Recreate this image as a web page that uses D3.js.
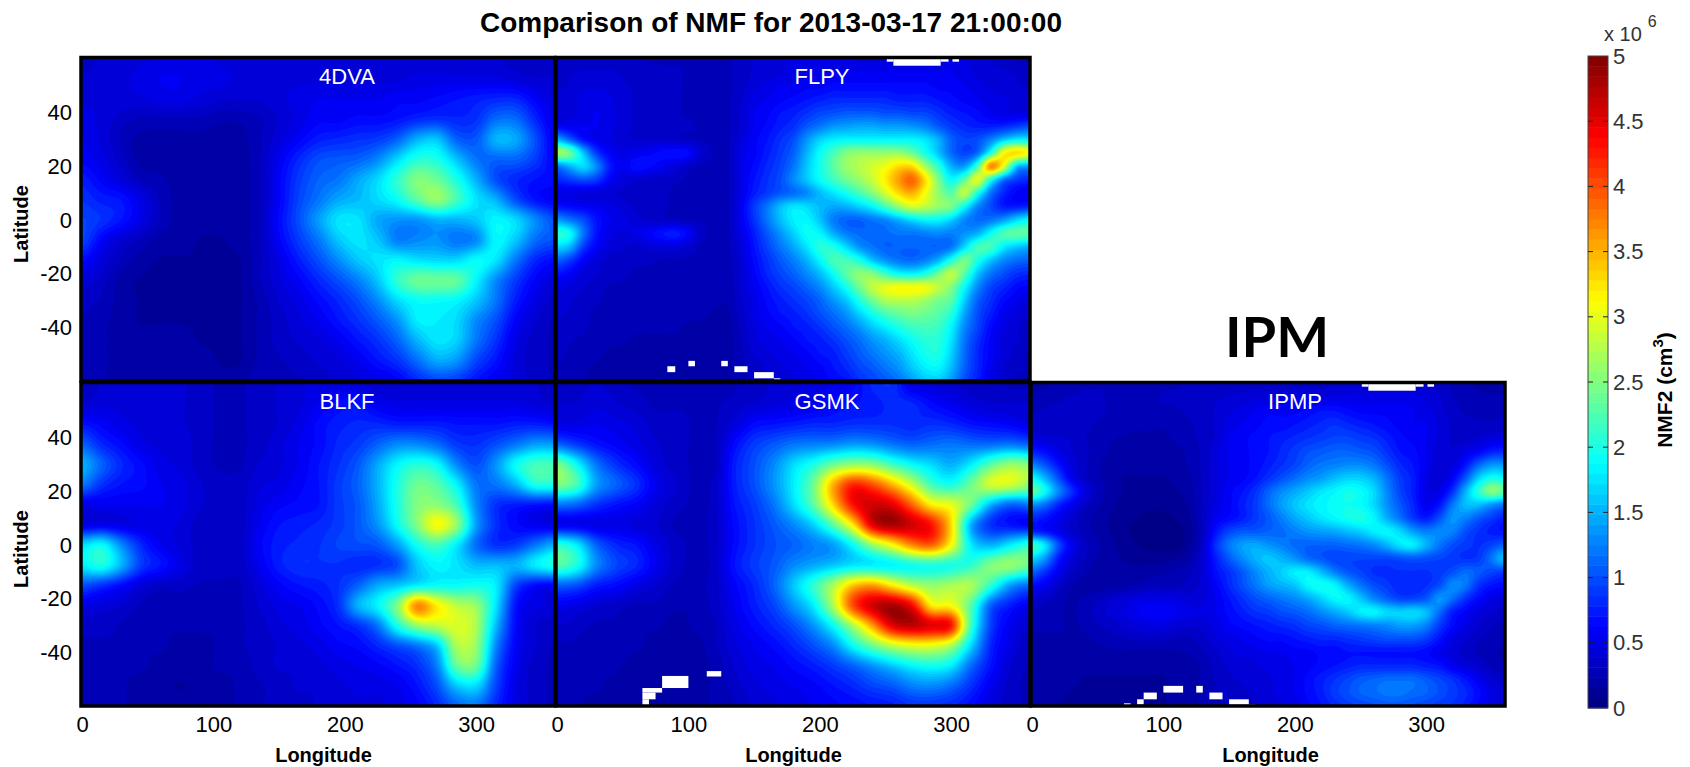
<!DOCTYPE html>
<html><head><meta charset="utf-8">
<script src="https://cdn.jsdelivr.net/npm/d3@7/dist/d3.min.js"></script>
<style>html,body{margin:0;background:#fff}svg{display:block}text{font-family:"Liberation Sans",Arial,sans-serif}</style>
</head><body><svg id="c" width="1690" height="767"></svg>
<script>
const lonTicks = [0, 100, 200, 300];
const latTicks = [-40, -20, 0, 20, 40];
const barTicks = [0, 0.5, 1, 1.5, 2, 2.5, 3, 3.5, 4, 4.5, 5];

// 4DVA, BLKF, GSMK: lon 0..360 every 15 deg, lat 60..-60 every 7.5 deg (x 10^6 cm^-3)
const v4DVA = [
[.35,.4,.45,.45,.5,.5,.5,.45,.45,.4,.4,.4,.4,.4,.4,.4,.4,.4,.4,.4,.4,.4,.35,.35,.35],
[.4,.45,.45,.5,.55,.55,.5,.5,.45,.45,.45,.45,.45,.45,.45,.45,.45,.5,.5,.5,.5,.5,.45,.4,.4],
[.45,.45,.45,.45,.5,.5,.45,.4,.4,.4,.45,.5,.55,.55,.55,.55,.6,.6,.65,.7,.75,.8,.8,.6,.45],
[.5,.45,.35,.3,.3,.3,.3,.25,.25,.3,.4,.5,.6,.6,.65,.65,.7,.8,.85,.8,.85,1.15,1.15,.8,.5],
[.55,.45,.3,.2,.2,.2,.2,.2,.2,.3,.45,.6,.75,.8,.85,.9,1.1,1.5,1.6,1.1,1.05,1.5,1.45,1,.55],
[.6,.5,.35,.2,.2,.2,.2,.2,.2,.3,.55,.8,1,1.05,1.1,1.3,1.7,2.05,2,1.6,1.2,1.1,1.1,.9,.6],
[.75,.6,.45,.3,.25,.2,.2,.2,.2,.3,.6,.9,1.1,1.2,1.45,1.7,2.1,2.5,2.4,2,1.5,1,.8,.7,.65],
[.85,.75,.7,.5,.3,.2,.2,.2,.2,.3,.6,.95,1.2,1.45,1.55,1.7,1.9,2.3,2.6,2.2,1.75,1.5,1,.7,.6],
[.95,.85,.7,.5,.3,.2,.2,.2,.2,.3,.65,1,1.4,1.75,1.75,1.45,1.35,1.35,1.5,1.5,1.6,1.85,1.7,1.3,1],
[.95,.6,.4,.3,.2,.2,.15,.15,.2,.3,.6,.9,1.2,1.6,1.75,1.6,1.25,1.3,1.35,1.2,1.3,1.85,1.6,1.15,1],
[.65,.45,.3,.2,.15,.15,.15,.15,.15,.3,.5,.75,1,1.3,1.6,1.75,1.85,1.75,1.7,1.7,1.9,1.75,1.2,.8,.65],
[.45,.35,.2,.15,.15,.15,.15,.15,.15,.3,.45,.6,.8,1,1.25,1.6,2.1,2.4,2.4,2.35,1.85,1.3,.9,.6,.45],
[.35,.3,.2,.15,.15,.15,.15,.15,.15,.25,.4,.5,.65,.8,1,1.3,1.7,1.9,1.9,1.85,1.6,1.2,.75,.5,.35],
[.3,.25,.2,.15,.15,.15,.15,.15,.15,.25,.35,.45,.55,.7,.85,1.05,1.35,1.8,1.8,1.7,1.3,1,.6,.4,.3],
[.3,.25,.2,.2,.2,.2,.15,.15,.15,.25,.35,.4,.45,.55,.7,.85,1.1,1.5,1.75,1.65,1.2,.85,.5,.35,.3],
[.3,.25,.2,.2,.2,.2,.2,.15,.15,.25,.3,.35,.4,.45,.55,.7,.85,1.15,1.45,1.35,.95,.7,.45,.35,.3],
[.3,.25,.2,.2,.2,.2,.2,.2,.2,.3,.3,.3,.35,.4,.45,.5,.6,.8,.95,.9,.7,.55,.45,.35,.3]];

const vBLKF = [
[.3,.4,.45,.4,.4,.4,.35,.3,.3,.35,.4,.45,.5,.5,.45,.4,.4,.4,.4,.4,.4,.4,.4,.4,.3],
[.4,.45,.45,.45,.4,.4,.35,.3,.3,.35,.4,.45,.55,.65,.7,.55,.5,.5,.5,.5,.5,.5,.5,.45,.4],
[.7,.6,.5,.45,.4,.4,.35,.3,.3,.35,.4,.5,.65,.75,.8,.8,.75,.75,.75,.7,.7,.7,.75,.75,.7],
[1.1,.8,.65,.5,.45,.45,.35,.3,.3,.35,.45,.55,.65,.8,.9,1.1,1.3,1.3,1.15,.9,.85,1,1.2,1.4,1.4],
[1.5,1.1,.8,.65,.5,.45,.35,.3,.3,.4,.45,.55,.7,.85,1.05,1.45,1.85,2.05,1.9,1.3,1,1.35,1.9,2.2,2.2],
[1.2,.85,.7,.65,.55,.5,.4,.35,.35,.45,.5,.6,.7,.9,1.1,1.5,2,2.4,2.3,1.85,1.2,1.2,1.5,2,2],
[.5,.55,.55,.55,.55,.5,.4,.35,.35,.5,.6,.65,.7,.9,1.05,1.45,2,2.5,2.55,2.2,1.3,.85,.75,.7,.65],
[.5,.55,.5,.5,.5,.45,.35,.35,.35,.55,.7,.75,.8,.9,1.05,1.35,1.9,2.5,3.1,2.6,1.4,.85,.65,.55,.5],
[1.7,1.9,1.3,.8,.55,.45,.35,.35,.35,.6,.75,.8,.85,.95,1,1.05,1.4,1.95,2.2,1.8,1.15,.85,.9,1.2,1.5],
[1.8,2,1.5,.9,.7,.5,.35,.35,.35,.55,.75,.85,.85,.85,.8,.85,1,1.6,1.85,1.75,1.55,1.55,1.5,1.8,2],
[1,.85,.65,.45,.35,.35,.3,.3,.3,.45,.6,.7,.75,.85,1.1,1.45,1.6,1.8,1.9,1.9,1.95,1.8,.95,.65,.6],
[.5,.45,.4,.3,.25,.25,.25,.25,.3,.4,.5,.55,.65,.85,1.5,1.85,2.5,3.7,3.2,2.8,2.6,1.75,.7,.5,.45],
[.35,.35,.3,.25,.25,.25,.25,.25,.3,.35,.45,.5,.6,.7,.85,1.2,2,2.6,2.8,2.95,2.7,1.55,.65,.4,.35],
[.3,.3,.3,.25,.25,.2,.2,.25,.3,.35,.4,.45,.5,.6,.65,.8,1,1.2,1.6,2.7,2.6,1.3,.6,.4,.3],
[.3,.3,.25,.25,.2,.2,.2,.25,.25,.35,.4,.4,.45,.5,.55,.6,.7,.85,1.25,2.35,2.4,1.1,.55,.35,.3],
[.3,.3,.25,.2,.2,.15,.2,.2,.25,.3,.35,.4,.4,.45,.5,.5,.55,.7,1,1.6,1.7,.95,.5,.35,.3],
[.3,.3,.25,.2,.2,.2,.2,.2,.25,.3,.35,.35,.4,.4,.45,.45,.5,.6,.8,1.1,1.2,.8,.5,.35,.3]];

const vGSMK = [
[.3,.35,.4,.35,.3,.3,.3,.25,.25,.3,.35,.4,.45,.5,.55,.6,.8,.85,.5,.45,.4,.35,.35,.3,.3],
[.4,.4,.45,.4,.35,.3,.3,.3,.3,.35,.4,.45,.5,.55,.65,.7,.75,.8,.8,.65,.55,.45,.4,.4,.4],
[.5,.5,.55,.5,.45,.35,.35,.3,.3,.45,.65,.7,.75,.8,.8,.85,.85,.85,.8,.85,.8,.7,.65,.6,.5],
[1.1,.9,.7,.6,.5,.4,.35,.3,.3,.65,.9,1.05,1.2,1.25,1.3,1.4,1.35,1.2,1.1,1.15,1.2,1.15,1.15,1.2,1.1],
[2.5,1.9,1.2,.85,.65,.45,.35,.3,.3,.75,1,1.3,1.7,2,2.4,2.6,2.55,2.2,1.9,1.7,1.5,1.8,2.3,2.6,2.5],
[2.5,2.2,1.4,1.1,.85,.55,.4,.3,.35,.75,1,1.35,1.8,2.4,3.5,4.2,4,3.5,2.9,2.2,2,2.4,2.9,2.9,2.6],
[1.2,1.1,.85,.7,.6,.45,.35,.3,.35,.7,.9,1.2,1.7,2.3,3.3,4.3,4.6,4.5,3.9,3.2,3,2.4,1.5,1.1,1.2],
[.55,.55,.5,.5,.45,.4,.3,.3,.35,.65,.85,1.05,1.3,1.65,2.3,3.2,4.5,4.8,4.6,4.3,3.3,1.5,.85,.7,.6],
[2.1,1.8,1.1,.8,.7,.5,.35,.3,.35,.65,.85,1,1.1,1.25,1.4,1.9,2.6,3.1,3.7,3.9,3.1,1.8,1.5,1.8,2.1],
[2.3,2,1.3,.95,.8,.55,.35,.3,.35,.7,.9,1.05,1.3,1.45,1.6,1.75,1.8,1.85,1.95,2,2,2.1,2.5,2.6,2.4],
[1.1,1,.75,.65,.5,.4,.3,.3,.35,.6,.8,1.1,1.6,2.1,2.7,3.4,3.6,3.2,2.8,2.6,2.7,2.7,2.1,1.4,1.15],
[.55,.5,.4,.35,.3,.3,.25,.25,.35,.55,.75,.95,1.35,1.8,2.7,4,4.6,4.8,4.4,3.2,3.1,2.3,1.1,.75,.55],
[.4,.35,.3,.3,.25,.25,.2,.25,.3,.5,.65,.8,1,1.35,1.9,2.7,3.6,4.5,4.7,4.5,4.3,2.2,.95,.55,.4],
[.3,.3,.25,.25,.25,.2,.2,.2,.3,.45,.55,.65,.8,1,1.3,1.9,2.4,2.8,3,3,2.7,1.7,.8,.5,.3],
[.3,.3,.25,.25,.2,.2,.2,.2,.25,.4,.5,.55,.65,.75,.9,1.1,1.35,1.6,1.85,1.95,1.8,1.15,.7,.4,.3],
[.3,.25,.25,.2,.2,.2,.2,.2,.25,.35,.45,.5,.55,.6,.7,.8,.95,1.05,1.25,1.3,1.15,.85,.55,.35,.3],
[.3,.25,.2,.2,.2,.2,.2,.2,.25,.3,.4,.45,.5,.55,.6,.65,.7,.75,.85,.85,.8,.65,.45,.35,.3]];

// FLPY, IPMP: lon 0..360 every 10 deg, lat 60..-60 every 5 deg (thin bands need the finer reading)
const vFLPY = [
[.3,.33,.35,.35,.35,.35,.33,.3,.3,.3,.3,.3,.3,.3,.35,.4,.45,.45,.5,.5,.5,.5,.5,.45,.45,.45,.5,.5,.5,.5,.55,.5,.45,.4,.35,.3,.3],
[.35,.38,.4,.4,.4,.38,.35,.35,.33,.33,.3,.3,.3,.3,.35,.4,.43,.45,.5,.5,.5,.55,.55,.55,.55,.55,.55,.55,.55,.55,.55,.5,.45,.42,.4,.38,.35],
[.38,.4,.45,.45,.45,.4,.38,.35,.35,.33,.3,.3,.3,.3,.35,.45,.5,.55,.55,.6,.6,.65,.65,.65,.65,.65,.65,.65,.65,.6,.6,.55,.5,.45,.42,.4,.38],
[.4,.42,.5,.52,.48,.42,.38,.35,.35,.33,.3,.3,.3,.3,.38,.5,.55,.6,.65,.7,.75,.8,.8,.8,.8,.8,.75,.75,.75,.7,.65,.6,.55,.5,.48,.45,.4],
[.42,.45,.5,.55,.5,.42,.38,.35,.35,.33,.3,.3,.3,.3,.4,.55,.6,.7,.75,.85,.95,1,1.05,1.05,1.05,1,1,.95,.95,.85,.75,.7,.65,.55,.5,.48,.45],
[.6,.55,.55,.55,.5,.42,.38,.35,.35,.33,.33,.3,.3,.3,.4,.55,.65,.75,.85,1.05,1.2,1.35,1.4,1.45,1.45,1.4,1.4,1.35,1.25,1.05,.9,.8,.75,.75,.8,.9,1],
[1.5,1.1,.7,.55,.48,.42,.38,.38,.38,.35,.33,.3,.3,.3,.45,.6,.7,.85,1,1.35,1.65,1.8,1.85,1.85,1.85,1.85,1.85,1.85,1.75,1.5,1.1,.95,1,1.25,1.6,1.8,1.8],
[2.7,2.4,1.6,.9,.6,.5,.55,.6,.65,.7,.65,.4,.3,.3,.5,.6,.75,.9,1.1,1.5,1.9,2.2,2.5,2.6,2.6,2.6,2.6,2.4,2,1.6,1.15,.95,1.15,2,3.1,3.3,3.1],
[1.2,1.5,1.7,1.3,.75,.55,.7,.65,.55,.45,.35,.3,.3,.3,.5,.65,.8,.95,1.2,1.6,1.95,2.3,2.6,2.75,2.9,3.05,3.3,3.3,2.7,2.1,1.5,1.4,2.2,3.7,3,1.6,1.4],
[.8,.9,1,.9,.6,.45,.4,.35,.35,.33,.3,.3,.3,.3,.5,.7,.85,1,1.3,1.6,1.9,2.15,2.4,2.6,2.85,3.2,3.6,3.9,3.3,2.5,1.9,2.3,3,2,1.2,.9,.8],
[.5,.5,.45,.45,.4,.38,.35,.33,.33,.3,.3,.3,.3,.3,.5,.75,.9,1.05,1.15,1.3,1.55,1.75,1.95,2.2,2.5,2.9,3.3,3.5,3.1,2.6,2.3,2.8,2,1.2,.8,.6,.55],
[.7,.65,.6,.55,.5,.42,.38,.35,.33,.3,.3,.3,.3,.3,.55,.9,1.2,1.55,1.75,1.7,1.55,1.45,1.5,1.65,1.85,2.2,2.6,2.9,2.8,2.6,2.45,1.9,1.3,1,.75,.75,.8],
[1.4,1.2,1,.7,.55,.5,.42,.38,.35,.33,.3,.3,.3,.3,.55,.85,1.2,1.55,1.8,1.85,1.6,1.25,1.1,1.1,1.2,1.3,1.5,1.7,1.85,1.85,1.65,1.3,1.15,1.2,1.4,1.7,1.9],
[2.1,1.9,1.2,.7,.5,.45,.5,.6,.7,.75,.6,.35,.3,.3,.5,.75,1.05,1.35,1.65,1.9,1.85,1.5,1.25,1.15,1.15,1.15,1.2,1.2,1.25,1.3,1.25,1.35,1.5,1.9,2.25,2.35,2.3],
[1.7,1.5,.9,.6,.45,.4,.38,.42,.45,.45,.38,.3,.3,.3,.45,.7,.95,1.2,1.45,1.75,2.05,2,1.7,1.35,1.2,1.1,1.1,1.1,1.1,1.1,1.2,1.7,2.2,2.2,1.8,1.6,1.5],
[1.1,.9,.6,.45,.35,.35,.33,.33,.3,.3,.3,.3,.28,.28,.42,.65,.85,1.05,1.25,1.5,1.85,2.2,2.2,2,1.6,1.35,1.2,1.15,1.25,1.5,2,2.45,2,1.6,1.3,1.15,1.1],
[.7,.6,.45,.4,.35,.33,.3,.3,.3,.3,.3,.28,.28,.28,.4,.6,.8,.95,1.1,1.3,1.55,1.9,2.3,2.55,2.5,2.15,1.9,1.85,2,2.4,2.8,2.3,1.6,1.2,1,.85,.8],
[.5,.45,.4,.35,.3,.3,.3,.3,.3,.3,.3,.28,.25,.25,.4,.55,.7,.85,.95,1.1,1.3,1.6,1.95,2.4,2.8,3,3.1,3.1,3.05,2.8,2.5,1.9,1.3,.95,.8,.65,.6],
[.45,.4,.35,.32,.3,.3,.3,.3,.3,.3,.28,.25,.25,.25,.38,.5,.65,.75,.85,.95,1.1,1.35,1.6,2,2.4,2.7,2.75,2.75,2.65,2.45,2.3,1.65,1.1,.85,.65,.55,.45],
[.4,.38,.33,.3,.3,.28,.28,.28,.28,.28,.25,.25,.22,.22,.35,.5,.6,.7,.75,.85,1,1.15,1.35,1.65,1.95,2.2,2.35,2.45,2.4,2.3,2.05,1.45,1,.75,.55,.45,.4],
[.38,.35,.32,.3,.28,.28,.25,.25,.25,.25,.22,.22,.2,.2,.33,.45,.55,.6,.7,.75,.85,1,1.15,1.35,1.6,1.8,2,2.15,2.2,2.15,1.85,1.3,.95,.65,.5,.4,.35],
[.35,.32,.3,.28,.25,.25,.22,.22,.22,.22,.2,.2,.2,.2,.3,.45,.5,.55,.6,.7,.75,.85,1,1.15,1.35,1.5,1.7,1.9,2.05,2.05,1.75,1.2,.85,.6,.45,.4,.35],
[.33,.3,.28,.25,.22,.2,.2,.2,.2,.2,.2,.2,.2,.2,.3,.4,.45,.5,.55,.6,.7,.75,.9,1.05,1.2,1.35,1.5,1.75,1.95,2,1.65,1.15,.8,.6,.45,.35,.3],
[.3,.3,.25,.22,.2,.2,.2,.2,.2,.2,.2,.2,.2,.22,.28,.35,.4,.45,.5,.55,.6,.7,.8,.95,1.05,1.2,1.35,1.6,1.8,1.85,1.55,1.1,.8,.55,.4,.35,.3],
[.3,.28,.25,.2,.2,.2,.2,.2,.2,.2,.2,.2,.2,.22,.28,.35,.4,.4,.45,.5,.55,.65,.7,.85,.95,1.05,1.2,1.4,1.6,1.65,1.4,1,.75,.5,.4,.3,.3]];

const vIPMP = [
[.2,.22,.25,.28,.3,.3,.3,.28,.25,.28,.3,.3,.33,.33,.35,.35,.35,.35,.35,.35,.35,.35,.35,.38,.38,.38,.38,.38,.4,.4,.4,.35,.3,.25,.22,.2,.2],
[.25,.28,.3,.32,.33,.33,.3,.28,.28,.3,.32,.33,.35,.35,.38,.4,.42,.45,.45,.48,.5,.5,.5,.5,.5,.5,.5,.5,.5,.5,.45,.4,.32,.28,.25,.25,.25],
[.3,.32,.33,.35,.35,.33,.3,.28,.28,.28,.3,.3,.33,.35,.4,.45,.5,.55,.6,.6,.6,.65,.7,.7,.65,.6,.6,.6,.6,.55,.5,.42,.35,.3,.28,.28,.3],
[.35,.35,.35,.33,.33,.3,.28,.28,.25,.25,.25,.28,.3,.35,.4,.5,.55,.6,.65,.65,.7,.75,.8,.85,.8,.75,.7,.65,.6,.55,.55,.45,.38,.35,.33,.33,.35],
[.45,.42,.4,.38,.32,.28,.25,.22,.22,.22,.22,.25,.28,.35,.4,.55,.6,.65,.7,.75,.8,.85,.9,.95,.95,.9,.85,.75,.65,.6,.55,.45,.38,.35,.4,.45,.45],
[.75,.65,.5,.4,.33,.28,.22,.2,.2,.2,.2,.22,.25,.33,.45,.55,.6,.65,.7,.8,.9,1,1.05,1.1,1.1,1.05,1,.85,.7,.65,.55,.42,.4,.5,.6,.75,.8],
[1.25,1,.7,.45,.33,.25,.2,.18,.18,.18,.18,.2,.25,.33,.45,.55,.6,.65,.75,.85,.95,1.1,1.2,1.25,1.3,1.3,1.2,1,.8,.7,.55,.42,.45,.7,1.1,1.35,1.35],
[1.9,1.5,1,.55,.35,.25,.2,.15,.15,.15,.15,.18,.22,.33,.45,.55,.6,.7,.85,1,1.15,1.3,1.4,1.55,1.65,1.65,1.5,1.2,.9,.75,.5,.42,.6,1.05,1.65,1.95,1.85],
[2.35,1.9,1.3,.85,.5,.3,.2,.15,.12,.12,.12,.15,.2,.33,.45,.6,.7,.85,1.1,1.3,1.45,1.6,1.75,1.85,1.95,1.9,1.7,1.3,.95,.75,.5,.5,.85,1.5,2.1,2.55,2.3],
[1.35,1.15,.8,.55,.35,.25,.18,.12,.1,.1,.1,.12,.18,.33,.5,.6,.75,.9,1.15,1.4,1.6,1.75,1.85,1.9,1.95,1.9,1.7,1.35,1.05,.8,.55,.7,1.2,1.55,1.55,1.35,1.2],
[.8,.7,.55,.4,.28,.2,.15,.1,.08,.05,.05,.08,.15,.33,.55,.65,.75,.9,1.05,1.25,1.45,1.6,1.75,1.85,1.95,2,1.85,1.5,1.2,.9,.75,1,1.35,1.25,1.05,.9,.75],
[.8,.7,.55,.38,.28,.2,.15,.1,.05,.03,.03,.05,.12,.33,.7,.95,1.05,1.05,1.1,1.15,1.25,1.35,1.4,1.45,1.55,1.65,1.8,1.85,1.7,1.4,1.25,1.3,1.25,1,.85,.75,.7],
[2.15,1.75,1,.55,.35,.25,.18,.12,.08,.05,.05,.05,.15,.38,.85,1.2,1.4,1.45,1.35,1.25,1.15,1.1,1.1,1.1,1.15,1.2,1.3,1.5,1.75,1.8,1.5,1.2,1,.9,.85,.95,1.1],
[1.7,1.35,.75,.45,.32,.22,.18,.15,.12,.12,.12,.15,.22,.42,.75,1.05,1.3,1.5,1.6,1.5,1.35,1.15,1.05,.95,.95,.95,.95,.95,1,1.05,1,.95,.9,.85,.9,1.2,1.6],
[1.1,.85,.55,.35,.25,.2,.18,.18,.18,.2,.22,.25,.3,.42,.68,.85,1.05,1.3,1.5,1.65,1.8,1.8,1.55,1.25,1.05,.95,.85,.85,.85,.85,.85,.9,1,1.15,1.05,.95,.9],
[.65,.55,.38,.25,.2,.18,.2,.22,.25,.3,.3,.3,.35,.42,.6,.8,1,1.2,1.4,1.5,1.6,1.85,1.95,1.85,1.5,1.2,1,.9,.8,.8,.85,1,1.3,1.2,.85,.7,.65],
[.4,.35,.28,.22,.25,.3,.38,.42,.48,.5,.5,.48,.42,.45,.55,.7,.85,1,1.1,1.2,1.3,1.45,1.65,1.85,1.85,1.6,1.3,1.1,.95,.95,1.05,1.35,1.15,.85,.65,.5,.45],
[.3,.28,.25,.22,.28,.35,.42,.48,.55,.6,.6,.55,.5,.48,.55,.65,.75,.85,.9,1,1.05,1.15,1.3,1.45,1.6,1.8,1.85,1.7,1.65,1.7,1.55,1.15,.75,.6,.45,.4,.35],
[.25,.25,.25,.22,.25,.3,.35,.4,.45,.48,.48,.42,.4,.42,.5,.6,.65,.7,.75,.8,.85,.95,1,1.1,1.15,1.2,1.25,1.3,1.4,1.4,1.25,.9,.65,.5,.4,.33,.28],
[.22,.22,.22,.22,.22,.25,.28,.3,.33,.33,.33,.3,.3,.35,.45,.5,.55,.6,.65,.65,.7,.75,.8,.8,.85,.9,.95,1,1,1,.9,.7,.5,.4,.33,.28,.25],
[.2,.2,.2,.2,.2,.2,.22,.22,.22,.22,.22,.22,.25,.3,.38,.45,.5,.5,.55,.55,.6,.6,.65,.65,.7,.7,.7,.7,.7,.7,.65,.55,.45,.35,.3,.25,.22],
[.2,.2,.2,.2,.18,.18,.18,.18,.18,.18,.18,.18,.2,.25,.35,.4,.42,.45,.5,.5,.55,.6,.65,.7,.75,.8,.8,.8,.8,.8,.75,.7,.55,.45,.38,.3,.25],
[.2,.2,.18,.18,.15,.15,.15,.15,.15,.15,.15,.18,.2,.25,.32,.38,.4,.42,.45,.5,.55,.65,.75,.85,.95,1.05,1.1,1.15,1.15,1.15,1.05,.95,.85,.7,.55,.4,.35],
[.18,.18,.18,.15,.15,.15,.15,.15,.15,.15,.15,.18,.2,.25,.3,.35,.38,.4,.45,.5,.55,.65,.75,.9,1,1.1,1.15,1.2,1.2,1.15,1.1,1,.9,.8,.65,.5,.4],
[.18,.18,.15,.15,.15,.15,.15,.15,.15,.15,.15,.18,.2,.25,.3,.33,.35,.38,.42,.45,.5,.6,.7,.8,.9,.95,1,1.05,1.05,1,.95,.9,.85,.75,.6,.5,.4]];

// masked (no data) cells: [lonStart, lonEnd, latTop, latBottom]
const maskFLPY = [[256,292,60,57.5],[251,256,60,59],[292,298,60,59],[301,306,60,59],
 [84,90,-54.5,-56.7],[100,105,-52.5,-54.5],[125,130,-52.5,-54.5],[135,145,-54.5,-56.7],[150,165,-56.7,-59],[165,170,-59,-60]];
const maskGSMK = [[80,100,-48.8,-53.3],[65,80,-53.3,-55],[65,75,-55,-57.5],[65,70,-57.5,-60],[114,125,-47,-49]];
const maskIPMP = [[256,292,60,57.5],[251,256,60,59],[292,298,60,59],[301,306,60,59],
 [70,75,-59,-60],[80,85,-57.5,-59.5],[85,95,-55,-57.5],[100,115,-52.5,-55],[125,130,-52.5,-55],[135,145,-55,-57.5],[150,165,-57.5,-59.5],[165,170,-59.5,-60]];

const panels = [
 {name:"4DVA", data:v4DVA, mask:[], x0:82, y0:59, left:true, bottom:false, titleX:347},
 {name:"FLPY", data:vFLPY, mask:maskFLPY, x0:557, y0:59, left:false, bottom:false, titleX:822},
 {name:"BLKF", data:vBLKF, mask:[], x0:82, y0:384, left:true, bottom:true, titleX:347},
 {name:"GSMK", data:vGSMK, mask:maskGSMK, x0:557, y0:384, left:false, bottom:true, titleX:827},
 {name:"IPMP", data:vIPMP, mask:maskIPMP, x0:1032, y0:384, left:false, bottom:true, titleX:1295}
];
const W = 473, H = 322;

function jet(t){
  const c = v => Math.round(255*Math.max(0,Math.min(1,v)));
  return `rgb(${c(Math.min(4*t-1.5,-4*t+4.5))},${c(Math.min(4*t-.5,-4*t+3.5))},${c(Math.min(4*t+.5,-4*t+2.5))})`;
}
const color = d3.scaleSequential(jet).domain([0,5]);
const levels = d3.range(64);
const levelValue = k => k*5/64;

const svg = d3.select("#c");
const defs = svg.append("defs");
const lon = d3.scaleLinear().domain([0,360]).range([0,W]);
const lat = d3.scaleLinear().domain([60,-60]).range([0,H]);

// Smooth shading of the grid (like Matlab's interpolated pcolor): Catmull-Rom surface for the contour fill only.
const F = 5;
const cr = (a,b,c,d,t) => b + .5*t*(c-a + t*(2*a-5*b+4*c-d + t*(3*(b-c)+d-a)));
function shade(g){
  const ny=g.length,nx=g[0].length, NX=(nx-1)*F+1, NY=(ny-1)*F+1, out=new Array(NX*NY);
  const at=(j,i)=>g[Math.max(0,Math.min(ny-1,j))][Math.max(0,Math.min(nx-1,i))];
  for(let J=0;J<NY;J++){const j=Math.floor(J/F),v=J/F-j;
    for(let I=0;I<NX;I++){const i=Math.floor(I/F),u=I/F-i;
      const r=[-1,0,1,2].map(dj=>cr(at(j+dj,i-1),at(j+dj,i),at(j+dj,i+1),at(j+dj,i+2),u));
      out[J*NX+I]=cr(r[0],r[1],r[2],r[3],v);
    }}
  return {values:out,NX,NY,lonStep:360/(nx-1),latStep:120/(ny-1)};
}

panels.forEach((p,i)=>{
  defs.append("clipPath").attr("id","clip"+i).append("rect").attr("width",W).attr("height",H);
  const g = svg.append("g").attr("transform",`translate(${p.x0},${p.y0})`);
  const m = g.append("g").attr("clip-path",`url(#clip${i})`);
  m.append("rect").attr("width",W).attr("height",H).attr("fill",color(0));
  const s = shade(p.data);
  const gridPath = d3.geoPath(d3.geoTransform({point(x,y){
    this.stream.point(lon((x-.5)*s.lonStep/F), lat(60-(y-.5)*s.latStep/F));
  }}));
  const cont = d3.contours().size([s.NX,s.NY]).thresholds(levels.map(levelValue))(s.values);
  m.selectAll("path").data(cont).join("path")
    .attr("d",gridPath).attr("fill",d=>color(d.value+2.5/64));
  m.selectAll("rect.mask").data(p.mask).join("rect").attr("class","mask")
    .attr("x",d=>lon(d[0])).attr("width",d=>lon(d[1])-lon(d[0]))
    .attr("y",d=>lat(d[2])).attr("height",d=>lat(d[3])-lat(d[2])).attr("fill","#fff");
  g.append("rect").attr("x",-1).attr("y",-1.5).attr("width",W+1).attr("height",H+1.5)
    .attr("fill","none").attr("stroke","#000").attr("stroke-width",3.5);
  g.append("text").attr("x",p.titleX-p.x0).attr("y",25).attr("text-anchor","middle")
    .attr("fill","#fff").attr("font-size",22).text(p.name);
  if(p.left){
    const a = g.append("g").call(d3.axisLeft(lat).tickValues(latTicks).tickFormat(d=>String(d)).tickSize(0).tickPadding(10));
    a.select(".domain").remove();
    a.selectAll("text").attr("font-size",22).attr("font-family","Liberation Sans").attr("fill","#000");
    g.append("text").attr("transform",`translate(-54,${H/2+4}) rotate(-90)`).attr("text-anchor","middle")
      .attr("font-size",20).attr("font-weight","bold").text("Latitude");
  }
  if(p.bottom){
    const a = g.append("g").attr("transform",`translate(0,${H})`)
      .call(d3.axisBottom(lon).tickValues(lonTicks).tickSize(0).tickPadding(10));
    a.select(".domain").remove();
    a.selectAll("text").attr("font-size",22).attr("font-family","Liberation Sans").attr("fill","#000");
    g.append("text").attr("x",W/2+(p.x0===82?5:p.x0===557?0:2)).attr("y",H+56).attr("text-anchor","middle")
      .attr("font-size",20).attr("font-weight","bold").text("Longitude");
  }
});

svg.append("text").attr("x",771).attr("y",32).attr("text-anchor","middle")
  .attr("font-size",28).attr("font-weight","bold").text("Comparison of NMF for 2013-03-17 21:00:00");
svg.append("text").attr("x",1277).attr("y",357).attr("text-anchor","middle")
  .attr("font-size",56).attr("font-weight","bold").style("font-family","Lato").text("IPM");

// colour bar
const bar = d3.scaleLinear().domain([0,5]).range([708,56]);
const cb = svg.append("g");
cb.selectAll("rect").data(levels).join("rect")
  .attr("x",1588).attr("width",20)
  .attr("y",k=>bar(levelValue(k+1))).attr("height",k=>bar(levelValue(k))-bar(levelValue(k+1))+.5)
  .attr("fill",k=>color(levelValue(k)+2.5/64));
cb.append("rect").attr("x",1588).attr("y",56).attr("width",20).attr("height",652)
  .attr("fill","none").attr("stroke","#444");
const ax = svg.append("g").attr("transform","translate(1608,0)")
  .call(d3.axisRight(bar).tickValues(barTicks).tickFormat(d=>String(d)).tickSize(0).tickPadding(5));
ax.select(".domain").remove();
ax.selectAll("text").attr("font-size",22).attr("font-family","Liberation Sans").attr("fill","#333");
svg.append("g").selectAll("line").data(barTicks.slice(1,-1)).join("line")
  .attr("x1",1588).attr("x2",1608).attr("y1",bar).attr("y2",bar)
  .attr("stroke","#222").attr("stroke-dasharray","5 10");
const sci = svg.append("text").attr("x",1604).attr("y",41).attr("font-size",20).attr("fill","#333");
sci.append("tspan").text("x 10");
sci.append("tspan").attr("dy",-14).attr("dx",6).attr("font-size",16).text("6");
const nm = svg.append("text").attr("transform","translate(1672,390) rotate(-90)")
  .attr("text-anchor","middle").attr("font-size",21).attr("font-weight","bold");
nm.append("tspan").text("NMF2 (cm");
nm.append("tspan").attr("dy",-9).attr("font-size",15).text("3");
nm.append("tspan").attr("dy",9).text(")");
</script></body></html>
